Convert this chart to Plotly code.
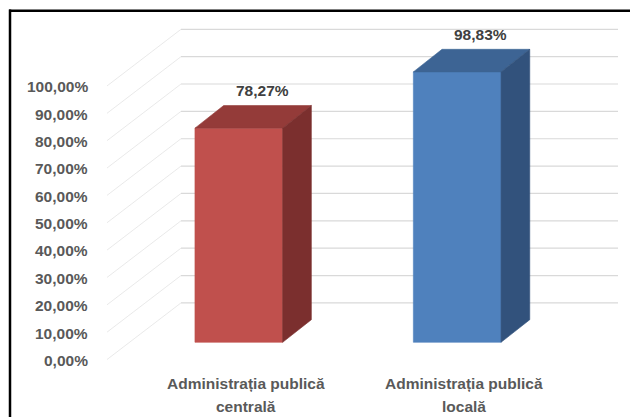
import plotly.graph_objects as go

# ---- data ----
categories = ["Administrația publică<br>centrală", "Administrația publică<br>locală"]
values = [78.27, 98.83]
value_labels = ["78,27%", "98,83%"]
tick_values = [0, 10, 20, 30, 40, 50, 60, 70, 80, 90, 100]
tick_labels = ["0,00%", "10,00%", "20,00%", "30,00%", "40,00%", "50,00%",
               "60,00%", "70,00%", "80,00%", "90,00%", "100,00%"]

front_colors = ["#C0504D", "#4F81BD"]
top_colors = ["#943B39", "#3D6494"]
side_colors = ["#7B2F2E", "#32527C"]

# ---- 3D projection parameters (in axis units) ----
W, H = 630, 417
PX_X = 218.4          # pixels per category
PX_Y = 2.736          # pixels per percent
X0_PX = 238.8         # pixel x of category 0 (bar front centre)
Y0_PX = 342.3         # pixel y of 0% on bar front plane
x_range = [-X0_PX / PX_X, (W - X0_PX) / PX_X]
y_range = [-(H - Y0_PX) / PX_Y, Y0_PX / PX_Y]

HW = 0.2008           # half bar width
DX, DY = 0.1314, 8.26 # bar depth offset
WALL_L, WALL_R, WALL_DY = -0.2647, 1.7363, 14.4
FRONT_X, FRONT_DY = -0.6035, -6.3
LABEL_X, LABEL_DY = -0.683, -6.6

FONT = "Liberation Sans"
GRAY = "#595959"
GRID = "#D9D9D9"

fig = go.Figure()

# back wall gridlines + floor diagonals
gx, gy, dxs, dys = [], [], [], []
for t in tick_values:
    gx += [WALL_L, WALL_R, None]
    gy += [t + WALL_DY, t + WALL_DY, None]
    dxs += [FRONT_X, WALL_L, None]
    dys += [t + FRONT_DY, t + WALL_DY, None]
fig.add_trace(go.Scatter(x=gx, y=gy, mode="lines", line=dict(color=GRID, width=1.2),
                         hoverinfo="skip", showlegend=False))
fig.add_trace(go.Scatter(x=dxs, y=dys, mode="lines", line=dict(color="#E3E3E3", width=0.8),
                         hoverinfo="skip", showlegend=False))

# 3D bars
for i, v in enumerate(values):
    faces = [
        ([i - HW, i + HW, i + HW, i - HW, i - HW], [0, 0, v, v, 0], front_colors[i]),
        ([i - HW, i + HW, i + HW + DX, i - HW + DX, i - HW], [v, v, v + DY, v + DY, v], top_colors[i]),
        ([i + HW, i + HW + DX, i + HW + DX, i + HW, i + HW], [0, DY, v + DY, v, 0], side_colors[i]),
    ]
    for fx, fy, col in faces:
        fig.add_trace(go.Scatter(x=fx, y=fy, mode="lines", fill="toself", fillcolor=col,
                                 line=dict(color=col, width=0.6),
                                 hoverinfo="skip", showlegend=False))

annotations = []
# y-axis tick labels
for t, lab in zip(tick_values, tick_labels):
    annotations.append(dict(x=LABEL_X, y=t + LABEL_DY, text=lab, showarrow=False,
                            xanchor="right", yanchor="middle",
                            font=dict(family=FONT, size=15.5, color=GRAY)))
# value labels
for i, (v, lab) in enumerate(zip(values, value_labels)):
    annotations.append(dict(x=i + 0.108, y=v + 13.7, text="<b>" + lab + "</b>", showarrow=False,
                            xanchor="center", yanchor="middle",
                            font=dict(family=FONT, size=15.5, color="#404040")))
# category labels
for i, cat in enumerate(categories):
    for k, line in enumerate(cat.split("<br>")):
        annotations.append(dict(x=i + 0.031, y=-14.9 - 8.4 * k, text="<b>" + line + "</b>",
                                showarrow=False, xanchor="center", yanchor="middle",
                                font=dict(family=FONT, size=15.5, color=GRAY)))
for a in annotations[:len(tick_values)]:
    a["text"] = "<b>" + a["text"] + "</b>"

fig.update_layout(
    width=W, height=H, margin=dict(l=0, r=0, t=0, b=0),
    paper_bgcolor="white", plot_bgcolor="white",
    xaxis=dict(range=x_range, visible=False, fixedrange=True),
    yaxis=dict(range=y_range, visible=False, fixedrange=True),
    annotations=annotations,
    shapes=[
        dict(type="line", xref="paper", yref="paper", x0=9 / W, x1=1, y0=1 - 10.8 / H, y1=1 - 10.8 / H,
             line=dict(color="black", width=2.5)),
        dict(type="line", xref="paper", yref="paper", x0=10 / W, x1=10 / W, y0=0, y1=1 - 9.6 / H,
             line=dict(color="black", width=2.5)),
    ],
    showlegend=False,
)

fig.write_html("out.html")
